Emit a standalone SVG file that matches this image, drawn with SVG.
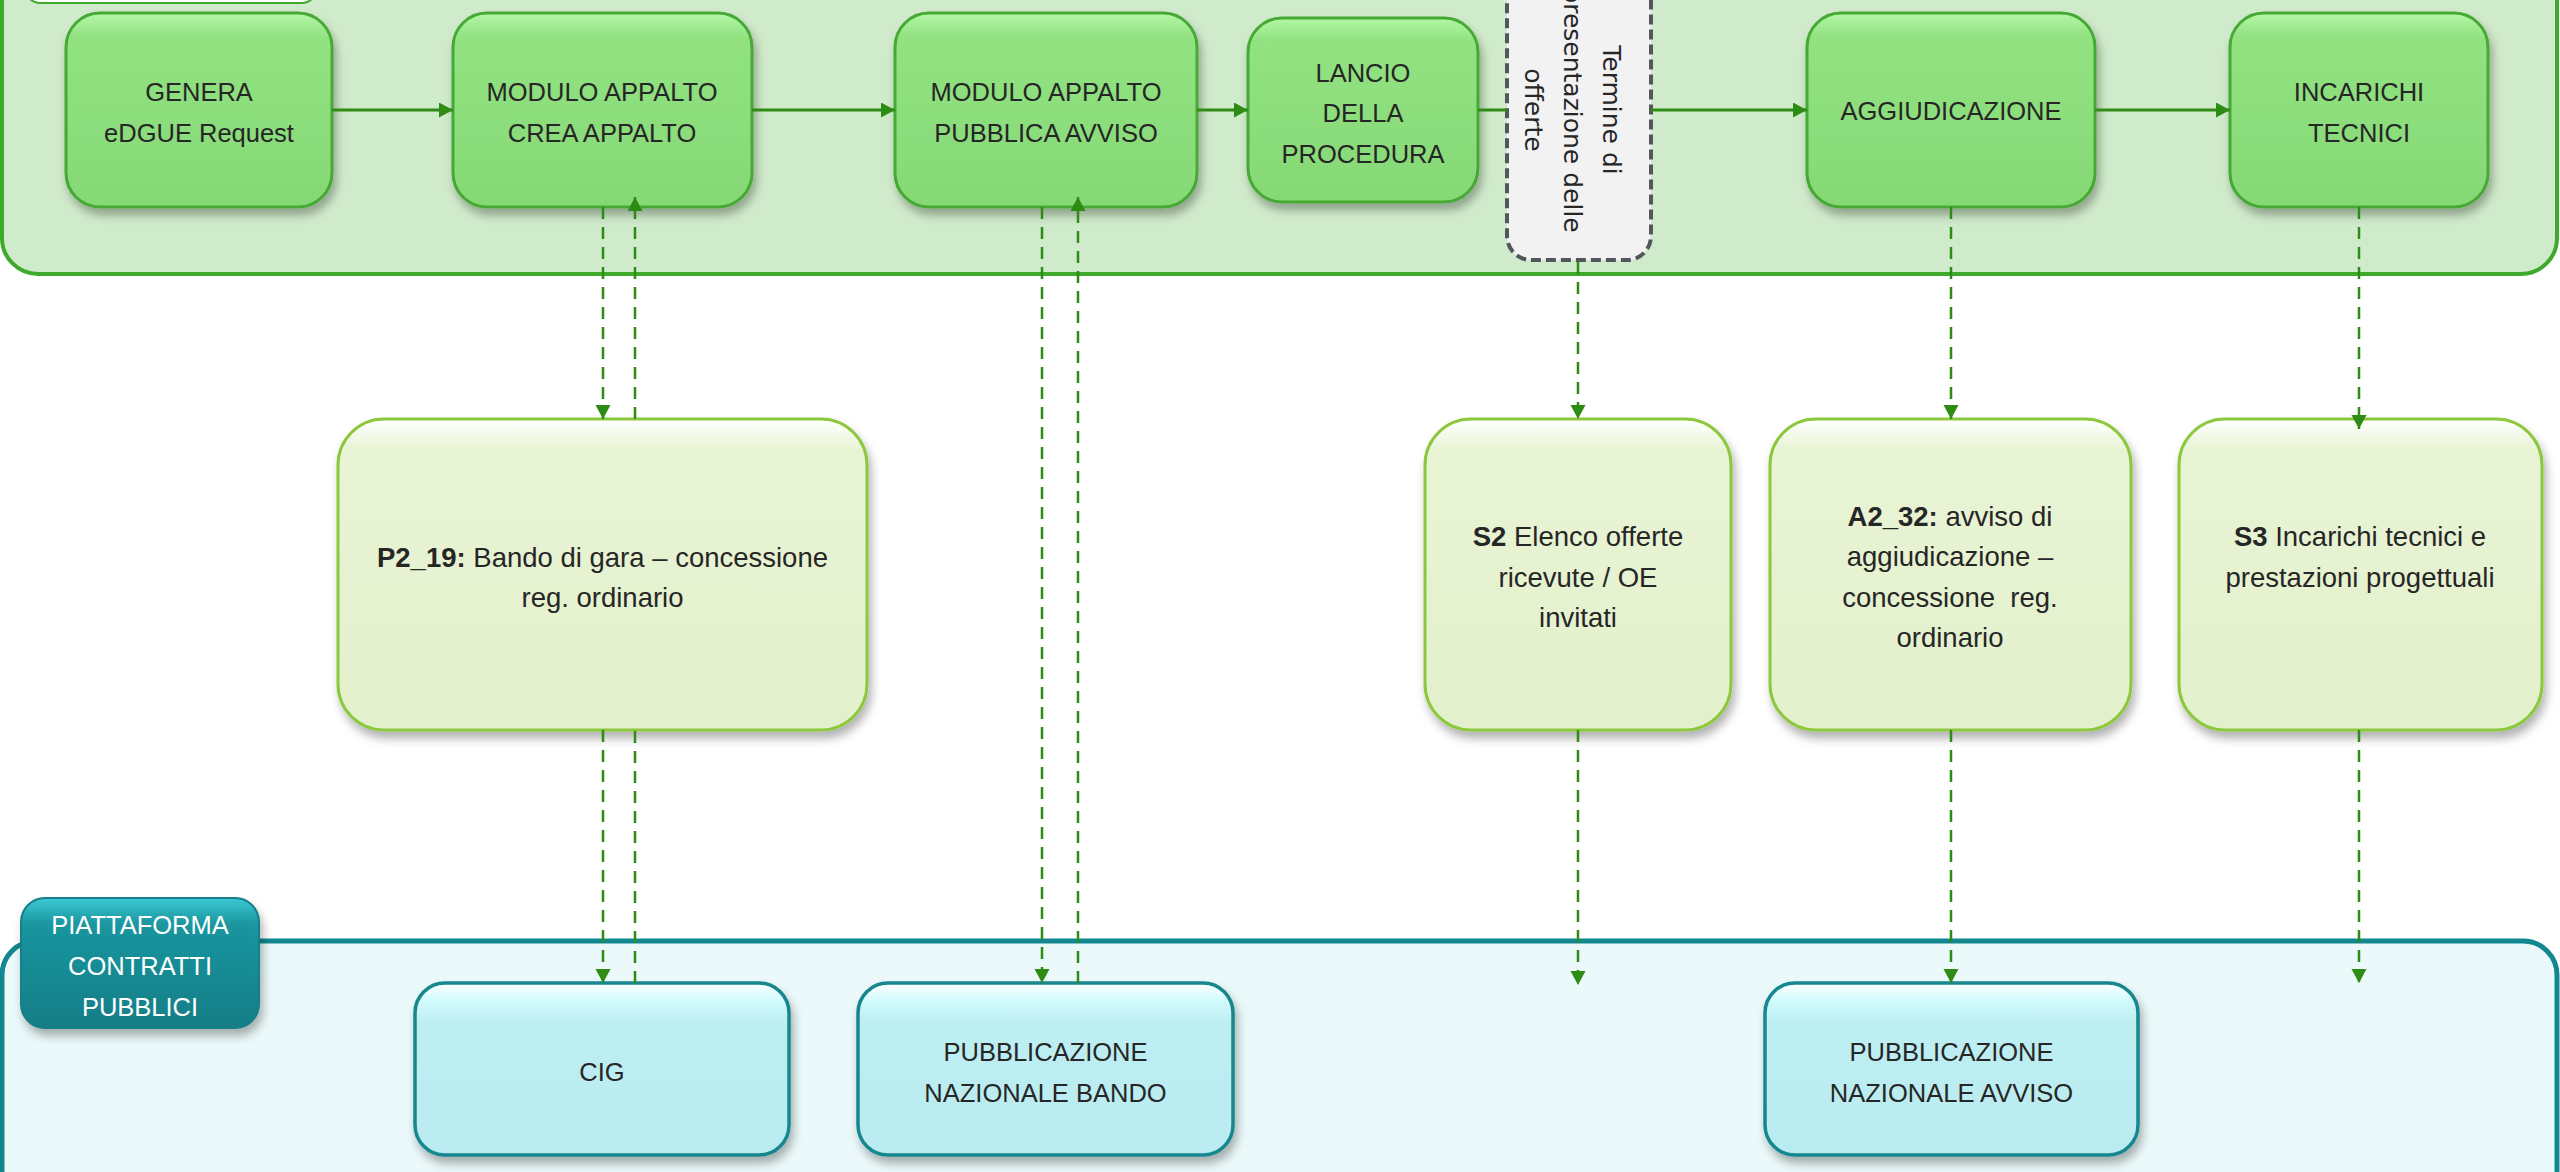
<svg xmlns="http://www.w3.org/2000/svg" width="2560" height="1172" viewBox="0 0 2560 1172">
<defs>
<linearGradient id="gTop" x1="0" y1="0" x2="0" y2="1">
<stop offset="0" stop-color="#b4f7a6"/><stop offset="0.12" stop-color="#92e282"/><stop offset="1" stop-color="#86d875"/>
</linearGradient>
<linearGradient id="gLight" x1="0" y1="0" x2="0" y2="1">
<stop offset="0" stop-color="#ffffff"/><stop offset="0.1" stop-color="#e8f4d4"/><stop offset="1" stop-color="#e3f0cc"/>
</linearGradient>
<linearGradient id="gBot" x1="0" y1="0" x2="0" y2="1">
<stop offset="0" stop-color="#ffffff"/><stop offset="0.1" stop-color="#d2fbfe"/><stop offset="0.22" stop-color="#bdeef2"/><stop offset="1" stop-color="#b9ebf0"/>
</linearGradient>
<linearGradient id="gTeal" x1="0" y1="0" x2="0" y2="1">
<stop offset="0" stop-color="#3cc9d4"/><stop offset="0.2" stop-color="#1a96a0"/><stop offset="1" stop-color="#127d86"/>
</linearGradient>
<filter id="sh" x="-10%" y="-10%" width="130%" height="130%">
<feDropShadow dx="3" dy="7" stdDeviation="5" flood-color="#000" flood-opacity="0.3"/>
</filter>
<marker id="ah" markerUnits="userSpaceOnUse" markerWidth="16" markerHeight="16" refX="14" refY="7.5" orient="auto">
<path d="M0,0 L14,7.5 L0,15 z" fill="#2e8b14"/>
</marker>
<style>
.t{font-family:"Liberation Sans",Arial,sans-serif;fill:#262626;text-anchor:middle}
.top{font-size:25.5px}
.lt{font-size:27.5px}
.bt{font-size:25.5px}
.nTop{fill:url(#gTop);stroke:#46a934;stroke-width:3;filter:url(#sh)}
.nLight{fill:url(#gLight);stroke:#8cc83c;stroke-width:3;filter:url(#sh)}
.nBot{fill:url(#gBot);stroke:#18868f;stroke-width:3.5;filter:url(#sh)}
.solid{stroke:#2e8b14;stroke-width:3;fill:none}
.dash{stroke:#2e8b14;stroke-width:2.5;fill:none;stroke-dasharray:12 8}
</style>
</defs>

<g id="lane-top">
<rect x="2" y="-40" width="2555" height="314" rx="36" fill="#d0ebcb" stroke="#3eaa2c" stroke-width="4"/>
<rect x="26" y="-60" width="290" height="63" rx="14" fill="#ffffff" stroke="#3eaa2c" stroke-width="2"/>
</g>
<g id="lane-bottom">
<rect x="2" y="941" width="2555" height="280" rx="34" fill="#ebf9fa" stroke="#12878f" stroke-width="5"/>
</g>

<g id="node-genera">
<rect class="nTop" x="66" y="13" width="266" height="194" rx="34"/>
<text class="t top" x="199" y="101">GENERA</text>
<text class="t top" x="199" y="142">eDGUE Request</text>
</g>
<g id="node-crea">
<rect class="nTop" x="453" y="13" width="299" height="194" rx="34"/>
<text class="t top" x="602" y="101">MODULO APPALTO</text>
<text class="t top" x="602" y="142">CREA APPALTO</text>
</g>
<g id="node-pubblica">
<rect class="nTop" x="895" y="13" width="302" height="194" rx="34"/>
<text class="t top" x="1046" y="101">MODULO APPALTO</text>
<text class="t top" x="1046" y="142">PUBBLICA AVVISO</text>
</g>
<g id="node-lancio">
<rect class="nTop" x="1248" y="18" width="230" height="184" rx="34"/>
<text class="t top" x="1363" y="82">LANCIO</text>
<text class="t top" x="1363" y="122">DELLA</text>
<text class="t top" x="1363" y="163">PROCEDURA</text>
</g>
<g id="node-termine">
<rect x="1507" y="-41" width="144" height="301" rx="24" fill="#f2f2f2" stroke="#53575c" stroke-width="4" stroke-dasharray="10 5"/>
<g transform="translate(1578,110) rotate(90)" font-family="'DejaVu Sans',Verdana,sans-serif" font-size="25" fill="#262626" text-anchor="middle">
<text x="0" y="-25">Termine di</text>
<text x="0" y="14">presentazione delle</text>
<text x="0" y="53">offerte</text>
</g>
</g>
<g id="node-aggiudicazione">
<rect class="nTop" x="1807" y="13" width="288" height="194" rx="34"/>
<text class="t top" x="1951" y="120">AGGIUDICAZIONE</text>
</g>
<g id="node-incarichi">
<rect class="nTop" x="2230" y="13" width="258" height="194" rx="34"/>
<text class="t top" x="2359" y="101">INCARICHI</text>
<text class="t top" x="2359" y="142">TECNICI</text>
</g>

<g id="node-p2-19">
<rect class="nLight" x="338" y="419" width="529" height="311" rx="46"/>
<text class="t lt" x="602.5" y="567"><tspan font-weight="bold">P2_19:</tspan> Bando di gara – concessione</text>
<text class="t lt" x="602.5" y="607">reg. ordinario</text>
</g>
<g id="node-s2">
<rect class="nLight" x="1425" y="419" width="306" height="311" rx="46"/>
<text class="t lt" x="1578" y="546"><tspan font-weight="bold">S2</tspan> Elenco offerte</text>
<text class="t lt" x="1578" y="587">ricevute / OE</text>
<text class="t lt" x="1578" y="627">invitati</text>
</g>
<g id="node-a2-32">
<rect class="nLight" x="1770" y="419" width="361" height="311" rx="46"/>
<text class="t lt" x="1950" y="526"><tspan font-weight="bold">A2_32:</tspan> avviso di</text>
<text class="t lt" x="1950" y="566">aggiudicazione –</text>
<text class="t lt" x="1950" y="607" xml:space="preserve">concessione  reg.</text>
<text class="t lt" x="1950" y="647">ordinario</text>
</g>
<g id="node-s3">
<rect class="nLight" x="2179" y="419" width="363" height="311" rx="46"/>
<text class="t lt" x="2360" y="546"><tspan font-weight="bold">S3</tspan> Incarichi tecnici e</text>
<text class="t lt" x="2360" y="587">prestazioni progettuali</text>
</g>

<g id="node-piattaforma">
<rect x="21" y="898" width="238" height="130" rx="24" fill="url(#gTeal)" stroke="#137f88" stroke-width="2" filter="url(#sh)"/>
<text class="t bt" x="140" y="934" fill="#ffffff" style="fill:#ffffff">PIATTAFORMA</text>
<text class="t bt" x="140" y="975" style="fill:#ffffff">CONTRATTI</text>
<text class="t bt" x="140" y="1016" style="fill:#ffffff">PUBBLICI</text>
</g>
<g id="node-cig">
<rect class="nBot" x="415" y="983" width="374" height="172" rx="30"/>
<text class="t bt" x="602" y="1081">CIG</text>
</g>
<g id="node-pub-bando">
<rect class="nBot" x="858" y="983" width="375" height="172" rx="30"/>
<text class="t bt" x="1045.5" y="1061">PUBBLICAZIONE</text>
<text class="t bt" x="1045.5" y="1102">NAZIONALE BANDO</text>
</g>
<g id="node-pub-avviso">
<rect class="nBot" x="1765" y="983" width="373" height="172" rx="30"/>
<text class="t bt" x="1951.5" y="1061">PUBBLICAZIONE</text>
<text class="t bt" x="1951.5" y="1102">NAZIONALE AVVISO</text>
</g>

<g id="connectors">
<line class="solid" x1="332" y1="110" x2="453" y2="110" marker-end="url(#ah)"/>
<line class="solid" x1="752" y1="110" x2="895" y2="110" marker-end="url(#ah)"/>
<line class="solid" x1="1197" y1="110" x2="1248" y2="110" marker-end="url(#ah)"/>
<line class="solid" x1="1478" y1="110" x2="1507" y2="110"/>
<line class="solid" x1="1651" y1="110" x2="1807" y2="110" marker-end="url(#ah)"/>
<line class="solid" x1="2095" y1="110" x2="2230" y2="110" marker-end="url(#ah)"/>

<line class="dash" x1="603" y1="207" x2="603" y2="419" marker-end="url(#ah)"/>
<line class="dash" x1="635" y1="419" x2="635" y2="197" marker-end="url(#ah)"/>
<line class="dash" x1="603" y1="730" x2="603" y2="983" marker-end="url(#ah)"/>
<line class="dash" x1="635" y1="983" x2="635" y2="730"/>

<line class="dash" x1="1042" y1="207" x2="1042" y2="983" marker-end="url(#ah)"/>
<line class="dash" x1="1078" y1="983" x2="1078" y2="197" marker-end="url(#ah)"/>

<line class="dash" x1="1578" y1="262" x2="1578" y2="419" marker-end="url(#ah)"/>
<line class="dash" x1="1578" y1="730" x2="1578" y2="985" marker-end="url(#ah)"/>

<line class="dash" x1="1951" y1="207" x2="1951" y2="419" marker-end="url(#ah)"/>
<line class="dash" x1="1951" y1="730" x2="1951" y2="983" marker-end="url(#ah)"/>

<line class="dash" x1="2359" y1="207" x2="2359" y2="429" marker-end="url(#ah)"/>
<line class="dash" x1="2359" y1="730" x2="2359" y2="983" marker-end="url(#ah)"/>
</g>
</svg>
